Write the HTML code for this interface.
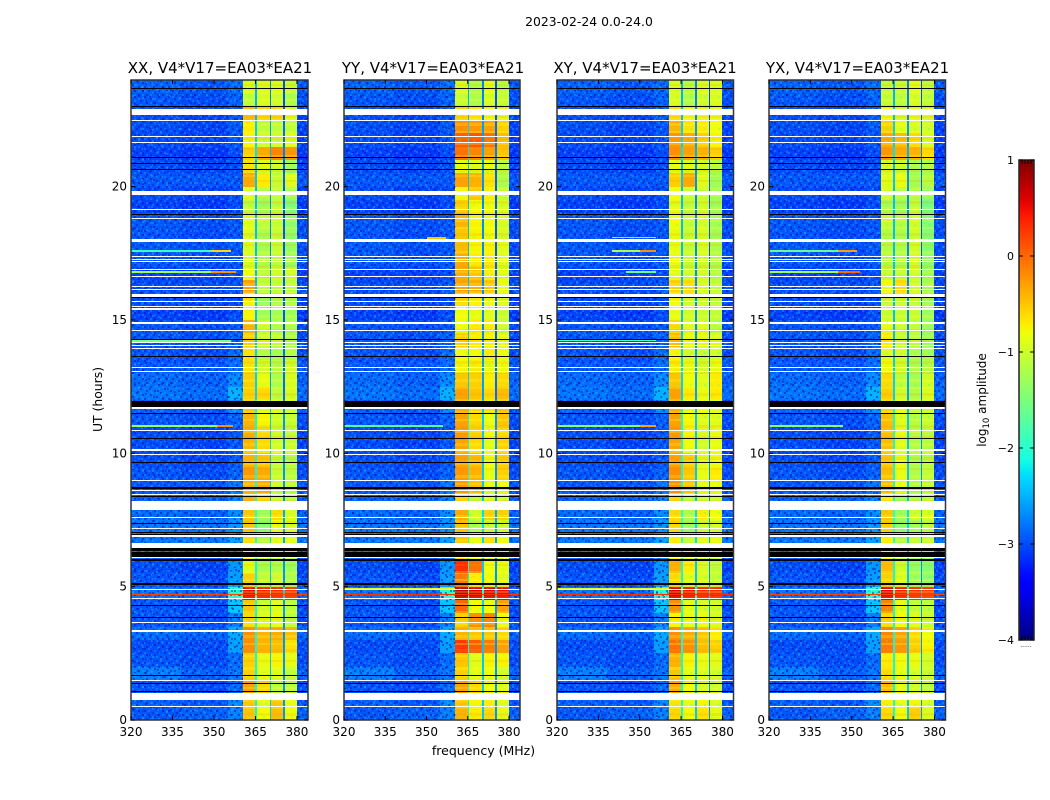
<!DOCTYPE html>
<html lang="en">
<head>
<meta charset="utf-8">
<title>2023-02-24 0.0-24.0</title>
<style>
html,body{margin:0;padding:0;background:#fff;}
svg{display:block;}
text{font-family:"DejaVu Sans","Liberation Sans",sans-serif;fill:#000;}
</style>
</head>
<body>
<svg id="chart" xmlns="http://www.w3.org/2000/svg" width="1050" height="800" viewBox="0 0 1050 800">
<defs>
<pattern id="speckle" patternUnits="userSpaceOnUse" width="24" height="24">
<path fill="#0010b0" fill-opacity="0.5" d="M0 0h2v2H0zM6 2h2v2H6zM14 0h2v2h-2zM20 4h2v2h-2zM2 6h2v2H2zM10 6h2v2h-2zM16 8h2v2h-2zM6 10h2v2H6zM22 10h2v2h-2zM12 12h2v2h-2zM0 14h2v2H0zM18 14h2v2h-2zM8 16h2v2H8zM4 18h2v2H4zM14 18h2v2h-2zM22 18h2v2h-2zM10 20h2v2h-2zM18 22h2v2h-2zM2 22h2v2H2z"/>
<path fill="#18a8ff" fill-opacity="0.4" d="M4 0h2v2H4zM18 2h2v2h-2zM10 2h2v2h-2zM0 4h2v2H0zM14 4h2v2h-2zM6 6h2v2H6zM20 8h2v2h-2zM12 8h2v2h-2zM2 10h2v2H2zM16 12h2v2h-2zM8 12h2v2H8zM22 14h2v2h-2zM4 14h2v2H4zM12 16h2v2h-2zM18 18h2v2h-2zM0 18h2v2H0zM8 20h2v2H8zM22 22h2v2h-2zM14 22h2v2h-2zM6 22h2v2H6z"/>
</pattern>
<pattern id="speckle-wide" patternUnits="userSpaceOnUse" width="37" height="31">
<path fill="#0010b0" fill-opacity="0.45" d="M1 3h2v2H1zM9 1h2v2H9zM17 5h2v2h-2zM27 2h2v2h-2zM34 7h2v2h-2zM5 9h2v2H5zM13 11h2v2h-2zM23 10h2v2h-2zM30 13h2v2h-2zM1 16h2v2H1zM9 18h2v2H9zM19 16h2v2h-2zM26 19h2v2h-2zM34 21h2v2h-2zM5 24h2v2H5zM14 25h2v2h-2zM22 27h2v2h-2zM31 28h2v2h-2z"/>
<path fill="#30c0ff" fill-opacity="0.35" d="M4 5h2v2H4zM12 7h2v2h-2zM21 2h2v2h-2zM31 4h2v2h-2zM8 13h2v2H8zM18 12h2v2h-2zM27 15h2v2h-2zM35 12h2v2h-2zM3 20h2v2H3zM13 21h2v2h-2zM23 22h2v2h-2zM30 24h2v2h-2zM9 27h2v2H9zM18 29h2v2h-2z"/>
</pattern>
<pattern id="stripes" patternUnits="userSpaceOnUse" width="14" height="32">
<rect x="0" y="3" width="14" height="2" fill="#ffff30" fill-opacity="0.28"/>
<rect x="0" y="9" width="14" height="3" fill="#ff9000" fill-opacity="0.18"/>
<rect x="0" y="15" width="14" height="2" fill="#ffff30" fill-opacity="0.25"/>
<rect x="0" y="20" width="14" height="2" fill="#ff9000" fill-opacity="0.18"/>
<rect x="0" y="27" width="14" height="3" fill="#ffff30" fill-opacity="0.25"/>
<rect x="4" y="0" width="2" height="2" fill="#30ffa0" fill-opacity="0.25"/>
<rect x="11" y="12" width="2" height="2" fill="#30ffa0" fill-opacity="0.25"/>
</pattern>
<linearGradient id="cb-gradient" x1="0" y1="1" x2="0" y2="0"></linearGradient>
</defs>
<text x="589" y="26" font-size="12.4" text-anchor="middle">2023-02-24 0.0-24.0</text>
<text transform="translate(102,399.5) rotate(-90)" font-size="12.4" text-anchor="middle">UT (hours)</text>
<text x="483.5" y="755" font-size="12.5" text-anchor="middle">frequency (MHz)</text>
<text transform="translate(986,400) rotate(-90)" font-size="12" text-anchor="middle">log<tspan font-size="8.5" dy="3">10</tspan><tspan dy="-3"> amplitude</tspan></text>
<text x="1026" y="647" font-size="6" text-anchor="middle" fill="#555">......</text>
<g id="panels"></g>
<g id="colorbar"></g>
</svg>
<script>
// Levels are log10 amplitude per half-hour row: [365 band, 370 band, 375 band, 380 band]
const rowHours=[0,0.5,1,1.5,2,2.5,3,3.5,4,4.5,5,5.5,6,6.5,7,7.5,8,8.5,9,9.5,10,10.5,11,11.5,12,12.5,13,13.5,14,14.5,15,15.5,16,16.5,17,17.5,18,18.5,19,19.5,20,20.5,21,21.5,22,22.5,23,23.5];
const rowSpan=0.5;
const xxLevels=[[-.5,-.8,-.45,-.8],[-.5,-.9,-.5,-.85],[-.3,-.6,-1.1,-1.1],[-.55,-.9,-.9,-1.1],[-.55,-.85,-.75,-.85],[-.2,-.4,-.45,-.65],[-.2,-.4,-.35,-.45],[-.6,-.9,-.85,-1.1],[-.5,-1,-.9,-1.1],[.5,.4,.35,.3],[-.55,-1.1,-1,-1.2],[-.9,-1.25,-1.2,-1.3],[-.8,-1,-1,-1.1],[-.6,-1.2,-.9,-.9],[-.5,-1.4,-.8,-.9],[-.5,-1.3,-.6,-.95],[-.4,-.6,-1,-1.1],[-.4,-.35,-1,-1.1],[-.25,-.35,-1.05,-1.15],[-.4,-.5,-1.1,-1.15],[-.4,-.6,-1,-1.05],[-.35,-.6,-1.05,-1.1],[-.4,-.75,-1,-1.05],[-.5,-.9,-.95,-1],[-.55,-.6,-1.1,-.95],[-.55,-.85,-1.2,-.95],[-.65,-1,-1.15,-1],[-.65,-1.15,-1.25,-1.15],[-.55,-1,-1.05,-1.2],[-.4,-1,-1.2,-1.2],[-.75,-1.3,-1.25,-1.3],[-.7,-1.35,-1.2,-1.2],[-.3,-1.1,-1.1,-1.1],[-.8,-1.1,-1,-1],[-.95,-1.2,-1.1,-1.3],[-.95,-1.25,-1.05,-1.35],[-.9,-1.2,-1.05,-1.35],[-.9,-1.1,-1.05,-1.4],[-1.1,-1.3,-1.1,-1.5],[-.9,-1.2,-1.1,-1.3],[-.35,-.7,-1.05,-.9],[-.65,-.9,-1,-1.3],[-.55,-.35,-.15,-.25],[-.75,-1,-1,-.9],[-.7,-1.1,-1.1,-1.1],[-.45,-.6,-.6,-.9],[-1.1,-.95,-1,-1.2],[-.95,-.95,-.95,-1.05]];
const yyLevels=[[-.4,-.7,-.6,-.85],[-.5,-.75,-.7,-.9],[-.3,-.6,-.8,-.9],[-.55,-.85,-.8,-1],[-.5,-.9,-.75,-.75],[.25,.05,-.1,-.3],[-.4,-.5,-.5,-.6],[-.55,-.2,-.15,-.8],[0,-.8,-.8,-.3],[.75,.6,.55,.5],[-.1,-.7,-.8,-.9],[.3,-.05,-.8,-.85],[-.6,-.8,-.9,-.9],[-.5,-.85,-.6,-.8],[-.5,-1.2,-1,-1],[-.35,-1,-.55,-.55],[-.6,-1.1,-.9,-.95],[-.25,-.45,-.85,-.8],[-.25,-.4,-.85,-.55],[-.3,-.45,-.8,-.55],[-.3,-.6,-.9,-.55],[-.25,-.55,-.8,-.6],[-.3,-.6,-.85,-.5],[-.35,-.6,-.65,-.45],[-.3,-.5,-.6,-.45],[-.5,-.55,-.7,-.6],[-.75,-.7,-.85,-.8],[-.8,-.8,-.7,-.8],[-.55,-.7,-.75,-.9],[-.8,-.7,-.7,-1],[-.8,-.85,-.9,-1.05],[-.6,-.75,-.8,-.9],[-.3,-.35,-.5,-.85],[-.35,-.5,-.7,-.9],[-.35,-.7,-.7,-.9],[-.45,-.75,-.75,-.9],[-.5,-.75,-.8,-.95],[-.4,-.75,-.8,-.95],[-.55,-.8,-.8,-.95],[-.75,-.5,-.7,-1.05],[-.3,-.4,-.65,-1.2],[-.85,-.9,-.85,-1.1],[-.05,-.15,-.3,-.5],[.05,.1,-.05,-.45],[-.2,-.25,-.3,-.55],[-.6,-.7,-.8,-.9],[-1.05,-1.2,-.95,-1.05],[-.95,-1.2,-.9,-1.15]];
const xyLevels=[[-.6,-.8,-.65,-.9],[-.65,-.85,-.75,-.95],[-.35,-.8,-.95,-1],[-.5,-.85,-.9,-1],[-.4,-.75,-.85,-.9],[-.05,-.2,-.45,-.55],[-.2,-.35,-.5,-.7],[-.75,-.85,-.8,-.95],[-.2,-.85,-.95,-1],[.6,.45,.35,.35],[-.6,-.9,-.95,-1.1],[-.4,-.7,-.95,-1.1],[-.7,-.9,-1,-1.1],[-.7,-1.1,-.9,-.85],[-.6,-1.3,-1,-.95],[-.6,-1.2,-.7,-.8],[-.6,-1.1,-1,-1],[-.2,-.5,-.85,-.85],[-.2,-.5,-.85,-.7],[-.3,-.55,-.9,-.85],[-.3,-.8,-1,-.85],[-.25,-.75,-.95,-.85],[-.3,-.75,-.9,-.9],[-.35,-.85,-.8,-.9],[-.3,-.7,-.85,-.7],[-.5,-.8,-.9,-.7],[-.7,-.85,-1,-.85],[-.75,-.95,-1.05,-1],[-.45,-.85,-.85,-.95],[-.6,-.9,-.9,-1.15],[-.85,-1,-1.05,-1.1],[-.8,-1,-1,-1.1],[-.55,-.6,-.95,-1.1],[-.85,-1,-1,-1.15],[-.85,-1.05,-1,-1.2],[-.85,-1.05,-.95,-1.2],[-.85,-1.05,-.95,-1.25],[-.8,-1.05,-.95,-1.25],[-.9,-1.1,-1,-1.3],[-.8,-1.05,-1.05,-1.3],[-.55,-.35,-.9,-1.3],[-.85,-.9,-.95,-1.15],[-.2,-.3,-.4,-.55],[-.25,-.35,-.55,-.75],[-.4,-.65,-.7,-.8],[-.65,-.8,-.85,-.85],[-.95,-1.2,-1,-.95],[-.95,-1.15,-.95,-.95]];
const yxLevels=[[-.6,-.8,-.55,-.95],[-.7,-.85,-.75,-.95],[-.45,-.85,-1,-1.1],[-.6,-.85,-.95,-1.05],[-.7,-.8,-.85,-1],[-.1,-.25,-.55,-.75],[-.15,-.3,-.6,-.8],[-.6,-.8,-.9,-1.05],[-.15,-.85,-1.05,-1.1],[.55,.4,.3,.25],[-.55,-.9,-1.3,-1.4],[-.45,-1,-1.35,-1.45],[-.8,-1,-1.2,-1.3],[-.7,-1.2,-1.1,-1.05],[-.55,-1.35,-1.25,-1.1],[-.5,-1.3,-1,-.95],[-.7,-1.3,-1.15,-1.1],[-.45,-.85,-1.2,-1.05],[-.45,-.85,-1.2,-1.1],[-.5,-.85,-1.2,-1.15],[-.45,-.9,-1.2,-1.15],[-.45,-.85,-1.15,-1.15],[-.45,-.9,-1.15,-1.05],[-.55,-.85,-1.1,-1.05],[-.55,-1,-1.2,-.95],[-.6,-1.1,-1.25,-1],[-.8,-1,-1.2,-1.15],[-.9,-.95,-1.2,-1.25],[-.7,-1.05,-1.1,-1.3],[-.85,-1,-1.1,-1.3],[-1.05,-1.05,-1.05,-1.3],[-1.05,-1.05,-1.05,-1.3],[-.8,-.6,-1,-1.25],[-1.05,-1.05,-1,-1.3],[-1.15,-1.2,-1,-1.4],[-1.15,-1.2,-1,-1.45],[-1.15,-1.2,-1,-1.45],[-1.05,-1.15,-1,-1.45],[-1.25,-1.3,-1.1,-1.55],[-1,-1.15,-1.2,-1.4],[-.9,-.85,-1.25,-1.15],[-.95,-1,-1.2,-1.2],[-.25,-.35,-.4,-.6],[-.35,-.45,-.6,-.95],[-.55,-.85,-.95,-1],[-.8,-.95,-.85,-.95],[-1.05,-1.1,-.95,-1.1],[-1.1,-1.05,-.9,-1.1]];
const lowA=[-2.95,-2.9,-2.95,-2.75,-2.95,-3,-2.85,-2.95,-2.95,-2.8,-2.95,-3,-2.85,-2.8,-2.8,-2.85,-2.9,-2.95,-2.95,-3,-3,-3,-2.95,-2.9,-2.8,-2.85,-2.95,-2.95,-2.95,-2.95,-3.05,-3,-3,-3.05,-2.95,-2.95,-2.95,-2.95,-3.05,-3,-2.95,-3,-3.05,-3,-3,-3,-2.95,-2.9];
const lowB=[-2.9,-2.95,-3,-2.9,-3,-3,-2.9,-3,-3,-2.85,-3,-3.05,-2.9,-2.8,-2.8,-2.9,-2.9,-2.95,-3,-3.05,-3.05,-3.05,-3,-2.95,-2.85,-2.9,-2.95,-3,-3,-3,-3.1,-3.05,-3,-3.05,-3,-3,-3,-3,-3.1,-3.05,-2.95,-3.05,-3.1,-3.05,-3.05,-3.05,-3,-2.95];
const lowC=[-2.75,-2.7,-2.85,-2.8,-2.85,-2.6,-2.55,-2.75,-2.4,-2,-2.6,-2.65,-2.7,-2.6,-2.65,-2.7,-2.75,-2.8,-2.9,-2.95,-2.95,-2.95,-2.9,-2.7,-2.5,-2.7,-2.85,-2.85,-2.9,-2.95,-3,-3,-2.95,-3,-2.95,-2.95,-2.95,-2.95,-3,-3,-2.95,-3,-3,-2.95,-2.95,-2.95,-2.9,-2.85];
const notchLevels=[-2.4,-2.4,-2.4,-2.4,-2.4,-2.4,-2.4,-2.4,-2.35,-2.1,-2.4,-2.4,-2.5,-2.3,-2.3,-2.3,-2.4,-2.4,-2.4,-2.4,-2.4,-2.4,-2.4,-2.4,-2.6,-2.6,-2.6,-2.6,-2.7,-2.7,-2.7,-2.7,-2.7,-2.7,-2.7,-2.7,-2.7,-2.7,-2.7,-2.7,-2.65,-2.7,-2.5,-2.6,-2.6,-2.7,-2.75,-2.75];
const notchOffsets=[.25,0,-.25];
const bandFrom=[360.5,365.6,370.8,375.6];
const bandTo=[365,370.2,375,380];
const notchFrom=[365,370.2,375];
const notchTo=[365.6,370.8,375.6];
const lowFrom=[320,338,355,380];
const lowTo=[338,355,360.5,384];
const whiteFlags=[[.47,.51],[.75,1.02],[1.45,1.49],[3.31,3.37],[3.64,3.68],[4.54,4.58],[4.88,4.92],[6.09,6.13],[6.45,6.65],[6.88,6.92],[7.15,7.19],[7.58,7.62],[7.87,8.21],[8.43,8.47],[8.6,8.64],[8.97,9.01],[9.65,9.69],[9.95,9.99],[10.08,10.16],[10.84,10.88],[11.68,11.72],[13.05,13.09],[13.2,13.24],[13.92,13.96],[14.04,14.08],[14.14,14.18],[14.59,14.63],[14.84,14.92],[15.37,15.45],[15.48,15.53],[15.67,15.71],[15.85,15.97],[16.14,16.18],[16.23,16.27],[16.6,16.64],[16.88,16.92],[17.16,17.2],[17.26,17.3],[17.35,17.39],[17.91,17.96],[17.98,18.03],[18.8,18.84],[19.13,19.17],[19.69,19.84],[21.64,21.68],[21.85,21.89],[22.47,22.51],[22.69,22.91]];
const blackFlags=[[1.04,1.08],[1.34,1.38],[1.66,1.7],[3.83,3.87],[4.28,4.32],[5.05,5.13],[5.98,6.02],[6.12,6.3],[6.35,6.45],[6.93,6.97],[7,7.04],[7.35,7.39],[8.35,8.39],[8.68,8.72],[9.62,9.66],[10.54,10.58],[11.48,11.52],[11.72,11.96],[13.6,13.64],[14.25,14.29],[15.81,15.85],[18.93,18.97],[20.63,20.67],[20.85,20.89],[21.07,21.11],[22.97,23.01],[23.67,23.71]];
const rfiPanel=[0,0,0,0,0,0,0,1,1,2,2,2,2,2,2,2,2,3,3,3,3,3,0,1,2,3,1,2];
const rfiHour=[16.76,16.76,17.56,17.56,14.19,11.0,11.0,18.05,11.0,18.06,18.06,17.56,17.56,16.78,14.2,11.0,11.0,17.56,17.56,16.76,16.76,11.0,4.68,4.68,4.68,4.68,4.9,4.9];
const rfiFrom=[320,349,320,349,320,320,351,350,320,340,349,340,350,345,320,320,350,320,345,320,345,320,320,320,320,320,320,320];
const rfiTo=[349,358,349,356,356,351,357,357,356,349,356,350,356,356,356,350,356,345,352,345,353,347,384,384,384,384,360.5,360.5];
const rfiLevel=[-1.3,-.2,-1.9,-.6,-1.5,-1.3,-.2,-.5,-1.7,-1.6,-.6,-1.2,-.2,-1.6,-1.8,-1.4,-.3,-1.6,-.3,-1.3,0,-1.4,.2,.3,.3,.2,-.9,-.9];
const xTicks=[320,335,350,365,380];
const yTicks=[0,5,10,15,20];
const cbTicks=[-4,-3,-2,-1,0,1];
const cbLabels=["\u22124","\u22123","\u22122","\u22121","0","1"];
const cbMinorX=[0.2,0.4,0.6,0.8];

const NS="http://www.w3.org/2000/svg";
const plotTop=80,plotBottom=720,hourMax=24,fMin=320,fMax=384;
const panels=[
 {name:"xx",title:"XX, V4*V17=EA03*EA21",levels:xxLevels,left:131,width:177,titleX:220},
 {name:"yy",title:"YY, V4*V17=EA03*EA21",levels:yyLevels,left:344,width:176,titleX:433},
 {name:"xy",title:"XY, V4*V17=EA03*EA21",levels:xyLevels,left:557,width:176.5,titleX:645},
 {name:"yx",title:"YX, V4*V17=EA03*EA21",levels:yxLevels,left:769,width:176.5,titleX:857.5}
];
function interp(t,xs,ys){
  for(let i=1;i<xs.length;i++){
    if(t<=xs[i]) return ys[i-1]+(ys[i]-ys[i-1])*(t-xs[i-1])/(xs[i]-xs[i-1]);
  }
  return ys[ys.length-1];
}
function jet(v){
  const t=Math.max(0,Math.min(1,(v+4)/5));
  const r=interp(t,[0,.35,.66,.89,1],[0,0,1,1,.5]);
  const g=interp(t,[0,.125,.375,.64,.91,1],[0,0,1,1,0,0]);
  const b=interp(t,[0,.11,.34,.65,1],[.5,1,1,0,0]);
  return "rgb("+Math.round(r*255)+","+Math.round(g*255)+","+Math.round(b*255)+")";
}
function yScale(h){return plotBottom-(h/hourMax)*(plotBottom-plotTop);}
function xScale(p,f){return p.left+(f-fMin)*p.width/(fMax-fMin);}
function make(tag,attrs,parent){
  const el=document.createElementNS(NS,tag);
  for(const k in attrs) el.setAttribute(k,attrs[k]);
  parent.appendChild(el);
  return el;
}
function cell(p,g,f0,f1,h0,h1,value){
  const x0=Math.round(xScale(p,f0)),x1=Math.round(xScale(p,f1));
  const y1=Math.round(yScale(h1)),y0=Math.round(yScale(h0));
  const el=make("rect",{x:x0,y:y1,width:Math.max(1,x1-x0),height:Math.max(1,y0-y1),fill:jet(value)},g);
  
  
  return el;
}
const root=document.getElementById("panels");
panels.forEach(function(p,pi){
  const g=make("g",{"shape-rendering":"crispEdges"},root);
  
  
  rowHours.forEach(function(h,r){
    const lows=[lowA[r],lowB[r],lowC[r],lowB[r]];
    lowFrom.forEach(function(f,c){cell(p,g,f,lowTo[c],h,h+rowSpan,lows[c]);});
    notchFrom.forEach(function(f,c){cell(p,g,f,notchTo[c],h,h+rowSpan,notchLevels[r]+notchOffsets[c]);});
    bandFrom.forEach(function(f,c){cell(p,g,f,bandTo[c],h,h+rowSpan,p.levels[r][c]);});
  });
  const x320=xScale(p,320),x360=xScale(p,360.5),x380=xScale(p,380),x384=xScale(p,384);
  ["url(#speckle)","url(#speckle-wide)"].forEach(function(fill){
    const t1=make("rect",{x:x320,y:plotTop,width:x360-x320,height:plotBottom-plotTop,fill:fill},g);
    
    
    const t2=make("rect",{x:x380,y:plotTop,width:x384-x380,height:plotBottom-plotTop,fill:fill},g);
    
    
  });
  bandFrom.forEach(function(f,c){
    const bx0=Math.round(xScale(p,f)),bx1=Math.round(xScale(p,bandTo[c]));
    const t3=make("rect",{x:bx0,y:plotTop,width:bx1-bx0,height:plotBottom-plotTop,fill:"url(#stripes)"},g);
    
    
  });
  rfiHour.forEach(function(h,i){
    if(rfiPanel[i]!==pi) return;
    const el=cell(p,g,rfiFrom[i],rfiTo[i],h,h+0.06,rfiLevel[i]);
    
  });
  whiteFlags.forEach(function(f){
    const y1=Math.round(yScale(f[1])),y0=Math.round(yScale(f[0]));
    const el=make("rect",{x:p.left,y:y1,width:p.width,height:Math.max(1,y0-y1),fill:"#fff"},g);
    
    
  });
  blackFlags.forEach(function(f){
    const y1=Math.round(yScale(f[1])),y0=Math.round(yScale(f[0]));
    const el=make("rect",{x:p.left,y:y1,width:p.width,height:Math.max(1,y0-y1),fill:"#000"},g);
    
    
  });
  const axes=make("g",{},root);
  
  
  const frame=make("rect",{x:p.left,y:plotTop,width:p.width,height:plotBottom-plotTop,fill:"none",stroke:"#333","stroke-width":1.5},axes);
  
  
  xTicks.forEach(function(t){
    const x=xScale(p,t);
    const a=make("line",{x1:x,x2:x,y1:plotBottom,y2:plotBottom-4,stroke:"#000","stroke-width":1},axes);
    
    
    const b=make("line",{x1:x,x2:x,y1:plotTop,y2:plotTop+4,stroke:"#000","stroke-width":1},axes);
    
    
    const l=make("text",{x:x,y:736,"font-size":12,"text-anchor":"middle"},axes);
    l.textContent=t;
    
    
  });
  yTicks.forEach(function(t){
    const y=yScale(t);
    const a=make("line",{x1:p.left,x2:p.left+4,y1:y,y2:y,stroke:"#000","stroke-width":1},axes);
    
    
    const b=make("line",{x1:p.left+p.width,x2:p.left+p.width-4,y1:y,y2:y,stroke:"#000","stroke-width":1},axes);
    
    
    const l=make("text",{x:p.left-4,y:y+4,"font-size":12,"text-anchor":"end"},axes);
    l.textContent=t;
    
    
  });
  const title=make("text",{x:p.titleX,y:73,"font-size":15,"text-anchor":"middle"},axes);
  title.textContent=p.title;
  
  
});

const cbLeft=1019,cbWidth=15,cbTop=160,cbBottom=640;
const grad=document.getElementById("cb-gradient");
for(let i=0;i<=50;i++){
  make("stop",{offset:(i/50),"stop-color":jet(-4+5*i/50)},grad);
}
function cbScale(v){return cbBottom-(v+4)/5*(cbBottom-cbTop);}
const cb=document.getElementById("colorbar");
const cbBar=make("rect",{x:cbLeft,y:cbTop,width:cbWidth,height:cbBottom-cbTop,fill:"url(#cb-gradient)",stroke:"#222","stroke-width":1.5},cb);


cbTicks.forEach(function(t,i){
  const y=cbScale(t);
  const a=make("line",{x1:cbLeft,x2:cbLeft+4,y1:y,y2:y,stroke:"#000","stroke-width":1},cb);
  
  
  const b=make("line",{x1:cbLeft+cbWidth,x2:cbLeft+cbWidth-4,y1:y,y2:y,stroke:"#000","stroke-width":1},cb);
  
  
  const l=make("text",{x:1014,y:y+4,"font-size":11,"text-anchor":"end"},cb);
  l.textContent=cbLabels[i];
  
  
});
cbMinorX.forEach(function(f){
  const x=cbLeft+f*cbWidth;
  const a=make("line",{x1:x,x2:x,y1:cbTop,y2:cbTop+4,stroke:"#000","stroke-width":1},cb);
  
  
  const b=make("line",{x1:x,x2:x,y1:cbBottom,y2:cbBottom-4,stroke:"#000","stroke-width":1},cb);
  
  
});
</script>
</body>
</html>
